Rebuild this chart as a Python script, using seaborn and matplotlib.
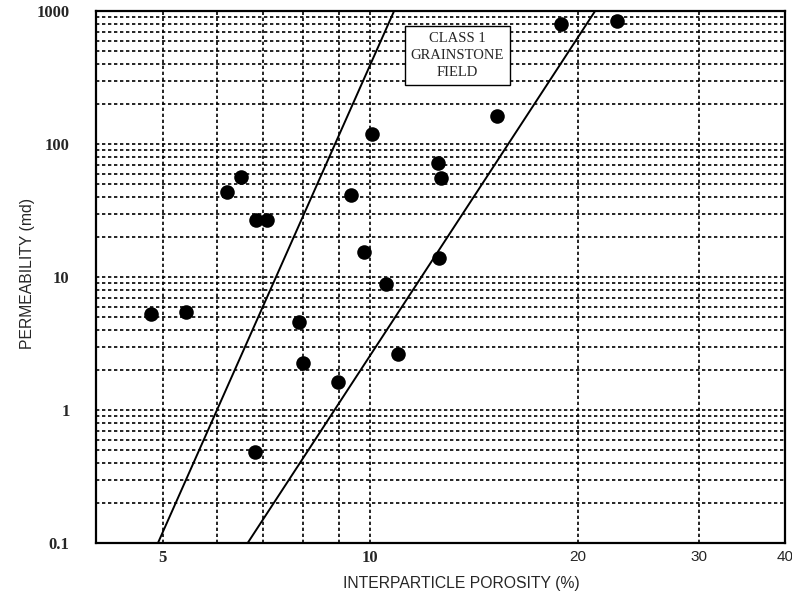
import numpy as np
import pandas as pd
import matplotlib
matplotlib.use("Agg")
import matplotlib.pyplot as plt
import seaborn as sns
from matplotlib.ticker import LogLocator, NullFormatter

# data
porosity = [4.80, 5.40, 6.19, 6.49, 6.83, 7.08, 6.80, 7.88, 7.99, 8.98, 9.37,
            9.79, 10.07, 10.55, 10.96, 12.55, 12.67, 12.57, 15.26, 18.92, 22.8]
permeability = [5.27, 5.46, 43.6, 56.5, 26.8, 26.8, 0.483, 4.56, 2.24, 1.63, 41.4,
                15.5, 119, 8.81, 2.62, 72.3, 55.2, 14.0, 162, 795, 841]

# field boundary lines
line1_x = [4.92, 10.83]
line1_y = [0.1, 1000]
line2_x = [6.64, 21.2]
line2_y = [0.1, 1000]

xtick_vals = [5, 10, 20, 30, 40]
xtick_labels = ["5", "10", "20", "30", "40"]
ytick_vals = [0.1, 1, 10, 100, 1000]
ytick_labels = ["0.1", "1", "10", "100", "1000"]

sns.set_style("white")
plt.rcParams['font.family'] = ['Liberation Sans', 'DejaVu Sans']

fig = plt.figure(figsize=(7.92, 6.01), dpi=100)
ax = fig.add_axes([0.1212, 0.0965, 0.870, 0.885])

df = pd.DataFrame({"porosity": porosity, "permeability": permeability})
sns.scatterplot(data=df, x="porosity", y="permeability", ax=ax,
                s=110, color="black", edgecolor="black", linewidth=0, zorder=5)

for lx, ly in [(line1_x, line1_y), (line2_x, line2_y)]:
    sns.lineplot(x=lx, y=ly, ax=ax, color="black", linewidth=1.4,
                 estimator=None, sort=False, zorder=4)

ax.set_xscale("log")
ax.set_yscale("log")
ax.set_xlim(4, 40)
ax.set_ylim(0.1, 1000)

ax.xaxis.set_minor_locator(LogLocator(base=10, subs=np.arange(2, 10)))
ax.yaxis.set_minor_locator(LogLocator(base=10, subs=np.arange(2, 10)))
ax.xaxis.set_minor_formatter(NullFormatter())
ax.yaxis.set_minor_formatter(NullFormatter())

ax.set_xticks(xtick_vals)
ax.set_xticklabels(xtick_labels)
ax.set_yticks(ytick_vals)
ax.set_yticklabels(ytick_labels)

ax.grid(which="both", color="black", linestyle=(0, (2, 1.6)), linewidth=1.2)
ax.tick_params(which="both", length=0)
ax.tick_params(axis="x", pad=5)
ax.tick_params(axis="y", pad=19)

for lab in ax.get_yticklabels():
    lab.set_fontfamily("Liberation Serif")
    lab.set_fontweight("bold")
    lab.set_fontsize(12)
for lab in ax.get_xticklabels():
    if lab.get_text() in ("5", "10"):
        lab.set_fontfamily("Liberation Serif")
        lab.set_fontweight("bold")
        lab.set_fontsize(12)
    else:
        lab.set_fontfamily("Liberation Sans")
        lab.set_fontsize(11)

for sp in ax.spines.values():
    sp.set_visible(True)
    sp.set_color("black")
    sp.set_linewidth(1.6)

ax.set_xlabel("INTERPARTICLE POROSITY (%)", fontsize=11.3)
ax.set_ylabel("PERMEABILITY (md)", fontsize=11.3)
ax.xaxis.set_label_coords(0.530, -0.062)
ax.yaxis.set_label_coords(-0.088, 0.507)

ax.text(0.524, 0.917, "CLASS 1\nGRAINSTONE\nFIELD", transform=ax.transAxes,
        ha="center", va="center", fontsize=10.5, family="Liberation Serif",
        linespacing=1.4, zorder=6,
        bbox=dict(boxstyle="square,pad=0.4", facecolor="white",
                  edgecolor="black", linewidth=1.0))

fig.savefig("out.png", dpi=100)
